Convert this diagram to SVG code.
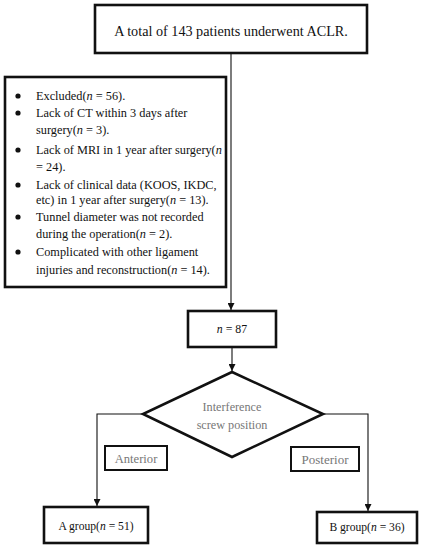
<svg xmlns="http://www.w3.org/2000/svg" width="421" height="550" viewBox="0 0 421 550">
<defs>
<marker id="ah" viewBox="0 0 10 10" refX="10" refY="5" markerWidth="7" markerHeight="7" markerUnits="userSpaceOnUse" orient="auto">
<path d="M0,0 L10,5 L0,10 z" fill="#111"/>
</marker>
</defs>
<style>
.box{fill:#fff;stroke:#111;stroke-width:2.6}
.lbl{fill:#fff;stroke:#111;stroke-width:2}
.t{font-family:"Liberation Serif","Times New Roman",serif;fill:#111}
.g{font-family:"Liberation Serif","Times New Roman",serif;fill:#777}
.c{fill:none;stroke:#111;stroke-width:1.1}
</style>
<rect width="421" height="550" fill="#fff"/>
<g id="connectors">
<line class="c" x1="231" y1="53" x2="231" y2="310" marker-end="url(#ah)"/>
<line class="c" x1="232" y1="347" x2="232" y2="371" marker-end="url(#ah)"/>
<polyline class="c" points="143,414 97,414 97,506" marker-end="url(#ah)"/>
<polyline class="c" points="323,414 368,414 368,511" marker-end="url(#ah)"/>
</g>
<g id="start">
<rect class="box" x="95" y="5" width="272" height="48"/>
<text class="t" x="231" y="36" font-size="14.2" text-anchor="middle">A total of 143 patients underwent ACLR.</text>
</g>
<g id="excluded">
<rect class="box" x="5" y="77" width="221" height="210"/>
<g fill="#111">
<circle cx="18" cy="96" r="2.6"/>
<circle cx="18" cy="113" r="2.6"/>
<circle cx="18" cy="150" r="2.6"/>
<circle cx="18" cy="185" r="2.6"/>
<circle cx="18" cy="217" r="2.6"/>
<circle cx="18" cy="252" r="2.6"/>
</g>
<g class="t" font-size="12.3">
<text x="36" y="100">Excluded(<tspan font-style="italic">n</tspan> = 56).</text>
<text x="36" y="117">Lack of CT within 3 days after</text>
<text x="36" y="134">surgery(<tspan font-style="italic">n</tspan> = 3).</text>
<text x="36" y="154">Lack of MRI in 1 year after surgery(<tspan font-style="italic">n</tspan></text>
<text x="36" y="171">= 24).</text>
<text x="36" y="189">Lack of clinical data (KOOS, IKDC,</text>
<text x="36" y="204">etc) in 1 year after surgery(<tspan font-style="italic">n</tspan> = 13).</text>
<text x="36" y="221">Tunnel diameter was not recorded</text>
<text x="36" y="238">during the operation(<tspan font-style="italic">n</tspan> = 2).</text>
<text x="36" y="256">Complicated with other ligament</text>
<text x="36" y="274">injuries and reconstruction(<tspan font-style="italic">n</tspan> = 14).</text>
</g>
</g>
<g id="n87">
<rect class="box" x="188" y="311" width="88" height="36"/>
<text class="t" x="232" y="333" font-size="11.8" text-anchor="middle"><tspan font-style="italic">n</tspan> = 87</text>
</g>
<g id="decision">
<polygon points="232,372 323,414 232,457 143,414" fill="#fff" stroke="#111" stroke-width="2.6" stroke-linejoin="miter"/>
<text class="g" x="232" y="411" font-size="12.2" text-anchor="middle">Interference</text>
<text class="g" x="232" y="429" font-size="12.2" text-anchor="middle">screw position</text>
</g>
<g id="anterior">
<rect class="lbl" x="105" y="446" width="62" height="24"/>
<text class="g" x="136" y="463" font-size="12.6" text-anchor="middle">Anterior</text>
</g>
<g id="posterior">
<rect class="lbl" x="291" y="447" width="68" height="24"/>
<text class="g" x="325" y="464" font-size="13" text-anchor="middle">Posterior</text>
</g>
<g id="groupA">
<rect class="box" x="44" y="507" width="104" height="36"/>
<text class="t" x="96" y="530" font-size="11.6" text-anchor="middle">A group(<tspan font-style="italic">n</tspan> = 51)</text>
</g>
<g id="groupB">
<rect class="box" x="317" y="512" width="100" height="31"/>
<text class="t" x="367" y="531" font-size="11.6" text-anchor="middle">B group(<tspan font-style="italic">n</tspan> = 36)</text>
</g>
</svg>
